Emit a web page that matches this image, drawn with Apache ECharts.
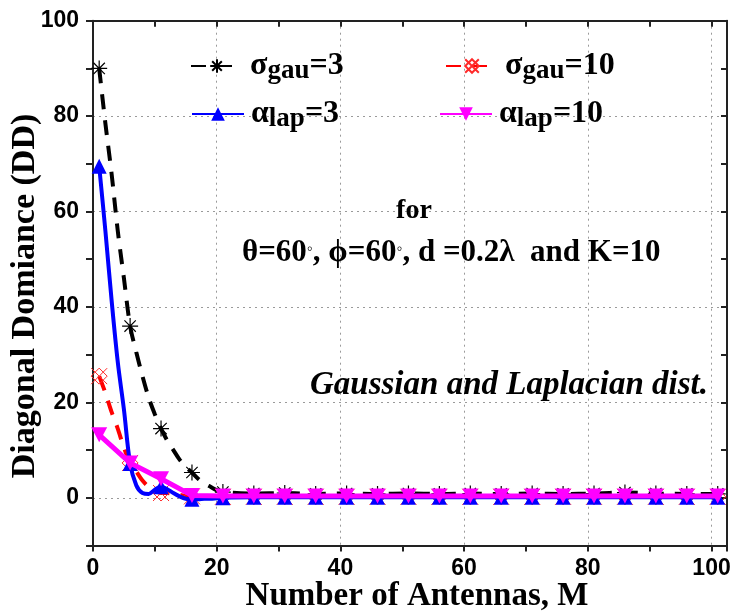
<!DOCTYPE html>
<html>
<head>
<meta charset="utf-8">
<script src="https://cdn.jsdelivr.net/npm/echarts@6/dist/echarts.min.js"></script>
<style>
html,body{margin:0;padding:0;background:#fff;}
#chart{width:741px;height:615px;}
</style>
</head>
<body>
<div id="chart"></div>
<script>
// ---- data ----
const xDense = [1,2,3,4,5,6,7,8,9,10,11,12,13,14,15,16,17,18,19,20,21,26,31,36,41,46,51,56,61,66,71,76,81,86,91,96,101];
const xMarkers = [1,6,11,16,21,26,31,36,41,46,51,56,61,66,71,76,81,86,91,96,101];
const gau3 = [90,78.5,68,56,46,36,30.5,25.5,21,17.5,14.5,12,10,8,6.5,5.3,4,3,2.3,1.6,1.2,0.9,1.0,0.8,0.9,0.8,0.9,0.8,0.9,0.8,0.9,0.8,0.9,1.1,0.9,0.8,0.8];
const gau10 = [25.5,22,18,14.5,10.5,7.3,5.5,3.6,2.3,1.5,1.0,1.0,0.8,0.6,0.4,0.3,0.2,0.2,0.2,0.2,0.2,0.2,0.2,0.2,0.2,0.2,0.2,0.2,0.2,0.2,0.2,0.2,0.2,0.2,0.2,0.2,0.2];
const lap3 = [69.5,56,41.5,28.5,18.5,7.2,2.6,1.0,0.8,1.7,2.3,1.8,1.0,0.3,-0.2,-0.3,-0.3,-0.2,-0.2,-0.1,0,0.1,0.1,0.1,0.1,0.1,0.1,0.1,0.1,0.1,0.1,0.1,0.1,0.1,0.1,0.1,0.1];
const lap10 = [13.2,7.3,4.0,0.5,0.4,0.4,0.4,0.4,0.4,0.4,0.4,0.4,0.4,0.4,0.4,0.4,0.4,0.4,0.4,0.4,0.4];
const yTickLabels = [0,20,40,60,80,100];
const xTickLabels = [0,20,40,60,80,100];

const markerSet = new Set(xMarkers);
function build(xs, ys){
  return xs.map((x,i)=> markerSet.has(x) ? {value:[x, ys[i]]} : {value:[x, ys[i]], symbol:'none'});
}

const serif = '"Liberation Serif", "Times New Roman", serif';
const sans = '"Liberation Sans", Arial, sans-serif';
const axisColor = '#222';
const gridColor = '#9a9a9a';

const legendNames = {
  g3: '{m|σ}{s|gau}{m|=3}',
  g10: '{m|σ}{s|gau}{m|=10}',
  l3: '{m|α}{s|lap}{m|=3}',
  l10: '{m|α}{s|lap}{m|=10}'
};
const legendRich = {
  m: {fontFamily: serif, fontWeight: 'bold', fontSize: 32, color: '#000'},
  s: {fontFamily: serif, fontWeight: 'bold', fontSize: 27, color: '#000', padding: [10,0,0,0]}
};
function mkLegend(name, left, top){
  return {
    data: [name], left: left, top: top, itemWidth: 52, itemHeight: 17, itemGap: 0,
    padding: 0,
    formatter: n => legendNames[n],
    textStyle: {rich: legendRich, padding:[0,0,0,2]}
  };
}

const chart = echarts.init(document.getElementById('chart'), null, {renderer:'canvas'});
chart.setOption({
  backgroundColor: '#fff',
  animation: false,
  grid: {left: 93, right: 14, top: 20.7, bottom: 69.5},
  legend: [
    mkLegend('g3', 190, 50),
    mkLegend('g10', 445, 50),
    mkLegend('l3', 191, 98),
    mkLegend('l10', 439, 98)
  ],
  xAxis: [{
    type: 'value', min: 0, max: 102.5, interval: 10, position: 'bottom',
    axisLine: {show: true, onZero: false, lineStyle: {color: axisColor, width: 2}},
    axisTick: {show: true, inside: false, length: 6, lineStyle: {color: axisColor, width: 2}},
    axisLabel: {
      margin: 12, color: '#000', fontFamily: sans, fontWeight: 'bold', fontSize: 23,
      formatter: v => xTickLabels.indexOf(v) >= 0 ? String(v) : ''
    },
    splitLine: {show: true, lineStyle: {color: [gridColor, 'rgba(0,0,0,0)'], type: [2,4], width: 1}}
  },{
    type: 'value', min: 0, max: 102.5, interval: 10, position: 'top',
    axisLine: {show: true, onZero: false, lineStyle: {color: axisColor, width: 2}},
    axisTick: {show: true, inside: true, length: 6, lineStyle: {color: axisColor, width: 2}},
    axisLabel: {show: false}, splitLine: {show: false}
  }],
  yAxis: [{
    type: 'value', min: -10, max: 100, interval: 10, position: 'left',
    axisLine: {show: true, onZero: false, lineStyle: {color: axisColor, width: 2}},
    axisTick: {show: true, inside: false, length: 7, lineStyle: {color: axisColor, width: 2}},
    axisLabel: {
      margin: 14, color: '#000', fontFamily: sans, fontWeight: 'bold', fontSize: 23,
      formatter: v => yTickLabels.indexOf(v) >= 0 ? String(v) : ''
    },
    splitLine: {show: true, lineStyle: {color: ['rgba(0,0,0,0)', gridColor], type: [2,4], width: 1}}
  },{
    type: 'value', min: -10, max: 100, interval: 10, position: 'right',
    axisLine: {show: true, onZero: false, lineStyle: {color: axisColor, width: 2}},
    axisTick: {show: true, inside: true, length: 6, lineStyle: {color: axisColor, width: 2}},
    axisLabel: {show: false}, splitLine: {show: false}
  }],
  series: [
    {
      name: 'g3', type: 'line', smooth: 0.3, showAllSymbol: true,
      data: build(xDense, gau3),
      symbol: 'path://M0,-1L0,1M-1,0L1,0M-0.71,-0.71L0.71,0.71M-0.71,0.71L0.71,-0.71',
      symbolSize: 16, symbolKeepAspect: true,
      itemStyle: {color: '#000', borderColor: '#000', borderWidth: 1.2},
      lineStyle: {color: '#000', width: 4, type: [15, 11]}, z: 2
    },
    {
      name: 'g10', type: 'line', smooth: 0.3, showAllSymbol: true,
      data: build(xDense, gau10),
      symbol: 'path://M-1,-1L1,1M-1,1L1,-1M0,-1L1,0L0,1L-1,0Z',
      symbolSize: 16, symbolKeepAspect: true,
      itemStyle: {color: 'rgba(255,0,0,0)', borderColor: '#ff2a2a', borderWidth: 1},
      lineStyle: {color: '#ff0000', width: 4, type: [15, 11]}, z: 3
    },
    {
      name: 'l3', type: 'line', smooth: 0.35, showAllSymbol: true,
      data: build(xDense, lap3),
      symbol: 'triangle', symbolSize: [15, 15],
      itemStyle: {color: '#0000ff'},
      lineStyle: {color: '#0000ff', width: 4}, z: 4
    },
    {
      name: 'l10', type: 'line', smooth: false, showAllSymbol: true,
      data: build(xMarkers, lap10),
      symbol: 'path://M-1,-1L1,-1L0,1Z', symbolSize: [16, 15],
      itemStyle: {color: '#ff00ff'},
      lineStyle: {color: '#ff00ff', width: 5}, z: 5
    }
  ],
  graphic: [
    {type: 'text', x: 414, y: 211, z: 100,
     style: {text: 'for', font: 'bold 28px ' + serif, fill: '#000',
       align: 'center', verticalAlign: 'middle', textAlign: 'center', textVerticalAlign: 'middle'}},
    {type: 'text', x: 242, y: 253, z: 100,
     style: {text: '{a|θ=60}{d|◦}{a|, ϕ=60}{d|◦}{a|, d =0.2λ  and K=10}', fill: '#000',
       align: 'left', verticalAlign: 'middle', textAlign: 'left', textVerticalAlign: 'middle',
       rich: {a: {fontFamily: serif, fontWeight: 'bold', fontSize: 31, color: '#000'},
              d: {fontFamily: serif, fontSize: 17, color: '#000', padding: [0,0,6,0]}}}},
    {type: 'text', x: 310, y: 385, z: 100,
     style: {text: 'Gaussian and Laplacian dist.', font: 'italic bold 33px ' + serif, fill: '#000',
       align: 'left', verticalAlign: 'middle', textAlign: 'left', textVerticalAlign: 'middle'}},
    {type: 'text', x: 25, y: 296, rotation: Math.PI/2, z: 100,
     style: {text: 'Diagonal Domiance (DD)', font: 'bold 34px ' + serif, fill: '#000',
       align: 'center', verticalAlign: 'middle', textAlign: 'center', textVerticalAlign: 'middle'}},
    {type: 'text', x: 417, y: 596, z: 100,
     style: {text: 'Number of Antennas, M', font: 'bold 33px ' + serif, fill: '#000',
       align: 'center', verticalAlign: 'middle', textAlign: 'center', textVerticalAlign: 'middle'}}
  ]
});
</script>
</body>
</html>
